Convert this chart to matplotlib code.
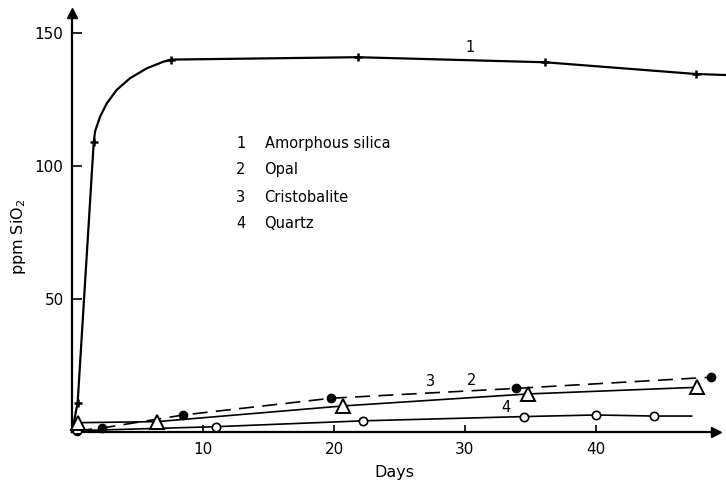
import matplotlib
matplotlib.use('Agg')
import matplotlib.pyplot as plt

plt.rcParams.update({
    'font.family': 'DejaVu Sans',
    'font.size': 11,
    'axes.linewidth': 1.6,
})

# --- Data (days, ppm SiO2) ---
amorph_days = [0.43, 1.66, 7.56, 21.8, 36.1, 47.6]
amorph_ppm = [11, 109, 140, 140.9, 139, 134.6]
# hand-drawn curve through the amorphous silica points
amorph_curve_days = [0.0, 0.43, 1.66, 1.76, 2.14, 2.65, 3.41, 4.43, 5.7, 6.97, 7.56,
                     21.8, 36.1, 47.6, 49.9]
amorph_curve_ppm = [0, 11, 109, 113, 118.5, 123.5, 128.6, 133, 136.7, 139.2, 140,
                    140.9, 139, 134.6, 134.2]

opal_days = [0.4, 2.3, 8.5, 19.8, 33.9, 48.8]
opal_ppm = [0.5, 1.5, 6.4, 12.7, 16.4, 20.6]

crist_days = [0.46, 6.5, 20.7, 34.8, 47.7]
crist_ppm = [3.5, 3.9, 9.8, 14.3, 16.8]

quartz_days = [0.4, 11.0, 22.2, 34.5, 40.0, 44.4]
quartz_ppm = [0.5, 2.0, 4.2, 5.8, 6.4, 6.0]
quartz_line_end = (47.3, 6.0)

legend_labels = ['Amorphous silica', 'Opal', 'Cristobalite', 'Quartz']
x_ticks = [10, 20, 30, 40]
y_ticks = [50, 100, 150]

W, H = 726, 483
fig = plt.figure(figsize=(W / 100, H / 100), dpi=100)
ax = fig.add_axes([72 / W, (H - 432) / H, 644 / W, 419 / H])
ax.set_xlim(0, 644 / 13.1)
ax.set_ylim(0, 419 / 2.66)

# curve 1
ax.plot(amorph_curve_days, amorph_curve_ppm, color='black', lw=1.6, clip_on=False, zorder=3)
ax.plot(amorph_days, amorph_ppm, linestyle='None', marker='+', ms=6, mew=1.8,
        color='black', zorder=4)

# curve 2 (dashed, filled circles)
ax.plot(opal_days, opal_ppm, color='black', lw=1.2, dashes=(9, 5), marker='o', ms=6,
        mfc='black', mec='black', clip_on=False, zorder=4)

# curve 3 (triangles)
ax.plot(crist_days, crist_ppm, color='black', lw=1.2, marker='^', ms=10,
        mfc='white', mec='black', mew=1.4, clip_on=False, zorder=5)

# curve 4 (open circles)
ax.plot(quartz_days + [quartz_line_end[0]], quartz_ppm + [quartz_line_end[1]],
        color='black', lw=1.2, zorder=3)
ax.plot(quartz_days, quartz_ppm, linestyle='None', marker='o', ms=6,
        mfc='white', mec='black', mew=1.2, zorder=4)

# curve numbers
for lab, (x, y) in zip(['1', '3', '2', '4'],
                       [(30.4, 144.4), (27.4, 18.9), (30.5, 19.5), (33.1, 9.1)]):
    ax.text(x, y, lab, ha='center', va='center', fontsize=10.5)

# key
key_y = [108.6, 98.5, 88.3, 78.2]
for i, (lab, y) in enumerate(zip(legend_labels, key_y)):
    ax.text(12.9, y, str(i + 1), ha='center', va='center', fontsize=10.5)
    ax.text(14.7, y, lab, ha='left', va='center', fontsize=10.5)

# axes styling
for side in ['top', 'right']:
    ax.spines[side].set_visible(False)
ax.set_xticks(x_ticks)
ax.set_yticks(y_ticks)
ax.tick_params(axis='x', direction='in', length=5, width=1.2, pad=7, labelsize=11)
ax.tick_params(axis='y', direction='in', length=7, width=1.2, pad=6, labelsize=11)

# arrow heads
ax.plot(1, 0, marker='>', ms=7, color='black', transform=ax.transAxes, clip_on=False)
ax.plot(0, 1, marker='^', ms=7, color='black', transform=ax.transAxes, clip_on=False)

ax.set_xlabel('Days', fontsize=11.5, labelpad=6)
ax.set_ylabel('ppm SiO$_2$', fontsize=11.5)
ax.yaxis.set_label_coords(-44 / 644, 195 / 419)

fig.savefig('out.png', dpi=100)
